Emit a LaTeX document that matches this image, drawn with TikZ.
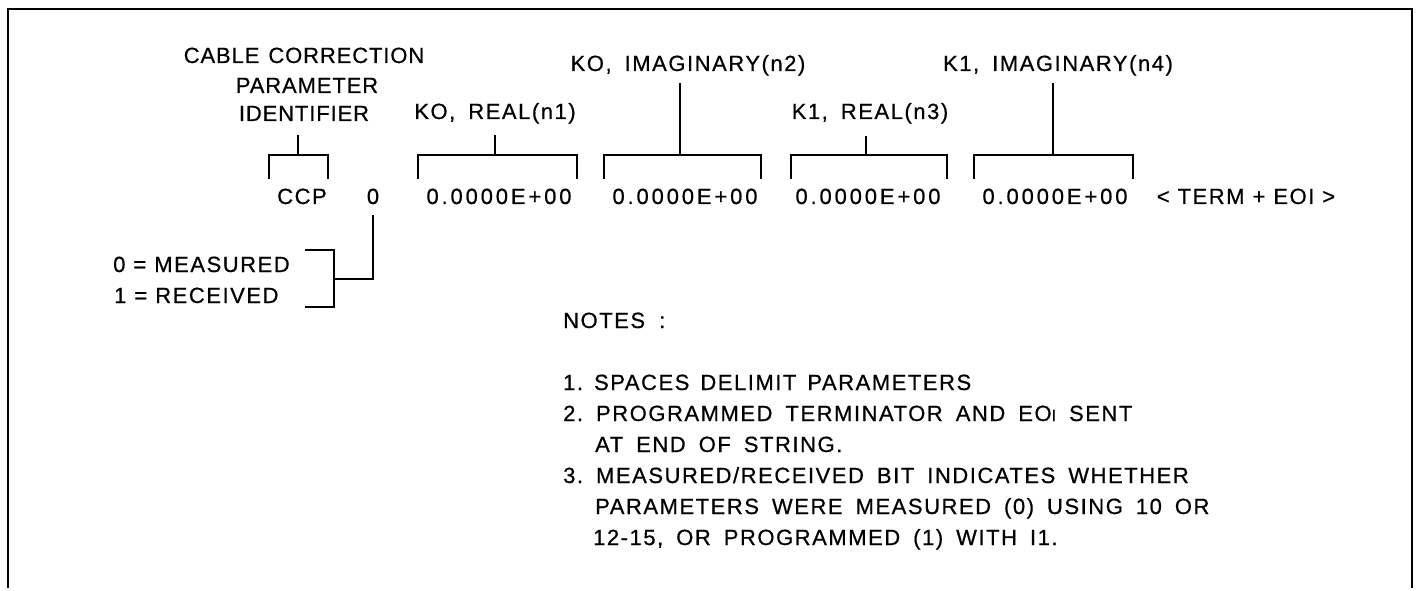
\documentclass[tikz,border=0pt]{standalone}
\usepackage{fontspec}
\setmainfont{Liberation Sans}
\newfontfamily\tfont{Liberation Sans}[LetterSpace=7,FakeBold=0.6]
\newfontfamily\hfont{Liberation Sans}[LetterSpace=4,FakeBold=0.6]
\newfontfamily\numfont{Liberation Sans}[LetterSpace=13,FakeBold=0.6]
\newcommand\sps[1]{\spaceskip=#1\relax\xspaceskip=#1\relax}
\tikzset{
  txt/.style={inner sep=0pt, anchor=base, font=\fontsize{22}{26}\selectfont\tfont\sps{8pt}},
  lbl/.style={inner sep=0pt, anchor=base, font=\fontsize{22}{26}\selectfont\tfont\sps{13pt}},
  hdr/.style={inner sep=0pt, anchor=base, font=\fontsize{22}{26}\selectfont\hfont\sps{9pt}},
  num/.style={inner sep=0pt, anchor=base, font=\fontsize{22}{26}\selectfont\numfont},
  note/.style={inner sep=0pt, anchor=base west, font=\fontsize{22}{26}\selectfont\tfont\sps{13pt}},
  brk/.style={line width=2.6pt, line join=miter},
  stem/.style={line width=2.2pt},
  frm/.style={line width=1.4pt}
}
\newcommand\bracketdraw[5]{% name, xl, xr, xstem, ystemtop
  \coordinate (#1L) at (#2,179);
  \coordinate (#1R) at (#3,179);
  \coordinate (#1S) at (#4,#5);
  \draw[brk] (#1L) -- (#2,155) -- (#3,155) -- (#1R);
  \draw[stem] (#4,155) -- (#1S);
}
\begin{document}
\begin{tikzpicture}[x=1pt,y=-1pt]
\useasboundingbox (0,0) rectangle (1417,591);
% frame
\coordinate (f1) at (8,588);
\coordinate (f2) at (8,9);
\coordinate (f3) at (1412,9);
\coordinate (f4) at (1412,588);
\draw[frm] (f1) -- (f2) -- (f3) -- (f4);

% header labels
\node[hdr] (cable) at (304,63) {CABLE CORRECTION};
\node[hdr] (param) at (307,93) {PARAMETER};
\node[hdr] (ident) at (304,121) {IDENTIFIER};
\node[lbl] (l1) at (495,119) {KO, REAL(n1)};
\node[lbl] (l2) at (688,71) {KO, IMAGINARY(n2)};
\node[lbl] (l3) at (870,119) {K1, REAL(n3)};
\node[lbl] (l4) at (1058,71) {K1, IMAGINARY(n4)};

% brackets
\bracketdraw{b0}{269}{328}{298}{135}
\bracketdraw{b1}{418}{577}{495}{135}
\bracketdraw{b2}{604}{761}{680}{83}
\bracketdraw{b3}{791}{947}{866}{136}
\bracketdraw{b4}{974}{1133}{1053}{83}

% data row
\node[txt] (ccp) at (302,204) {CCP};
\node[txt] (zero) at (373,204) {0};
\node[num] (n1) at (499,204) {0.0000E+00};
\node[num] (n2) at (685,204) {0.0000E+00};
\node[num] (n3) at (868,204) {0.0000E+00};
\node[num] (n4) at (1055,204) {0.0000E+00};
\node[txt] (term) at (1246,204) {< TERM + EOI >};

% measured / received
\node[txt, anchor=base west] (meas) at (113,272) {0 = MEASURED};
\node[txt, anchor=base west] (recv) at (114,303) {1 = RECEIVED};
\coordinate (mt) at (305,250);
\coordinate (mb) at (305,307);
\coordinate (bj) at (334,279);
\draw[brk] (mt) -- (334,250) -- (334,307) -- (mb);
\draw[stem] ([yshift=-11pt]zero.south) |- (bj);

% notes
\node[note] (notes) at (563,328) {\sps{14pt}NOTES :};
\node[note] (t1) at (563,390) {\sps{11pt}1. SPACES DELIMIT PARAMETERS};
\node[note] (t2) at (563,421) {2. PROGRAMMED TERMINATOR AND EO{\fontsize{16}{16}\selectfont I} SENT};
\node[note] (t3) at (595,452) {AT END OF STRING.};
\node[note] (t4) at (563,483) {3. MEASURED/RECEIVED BIT INDICATES WHETHER};
\node[note] (t5) at (595,514) {PARAMETERS WERE MEASURED (0) USING 10 OR};
\node[note] (t6) at (593,545) {12-15, OR PROGRAMMED (1) WITH I1.};
\end{tikzpicture}
\end{document}
